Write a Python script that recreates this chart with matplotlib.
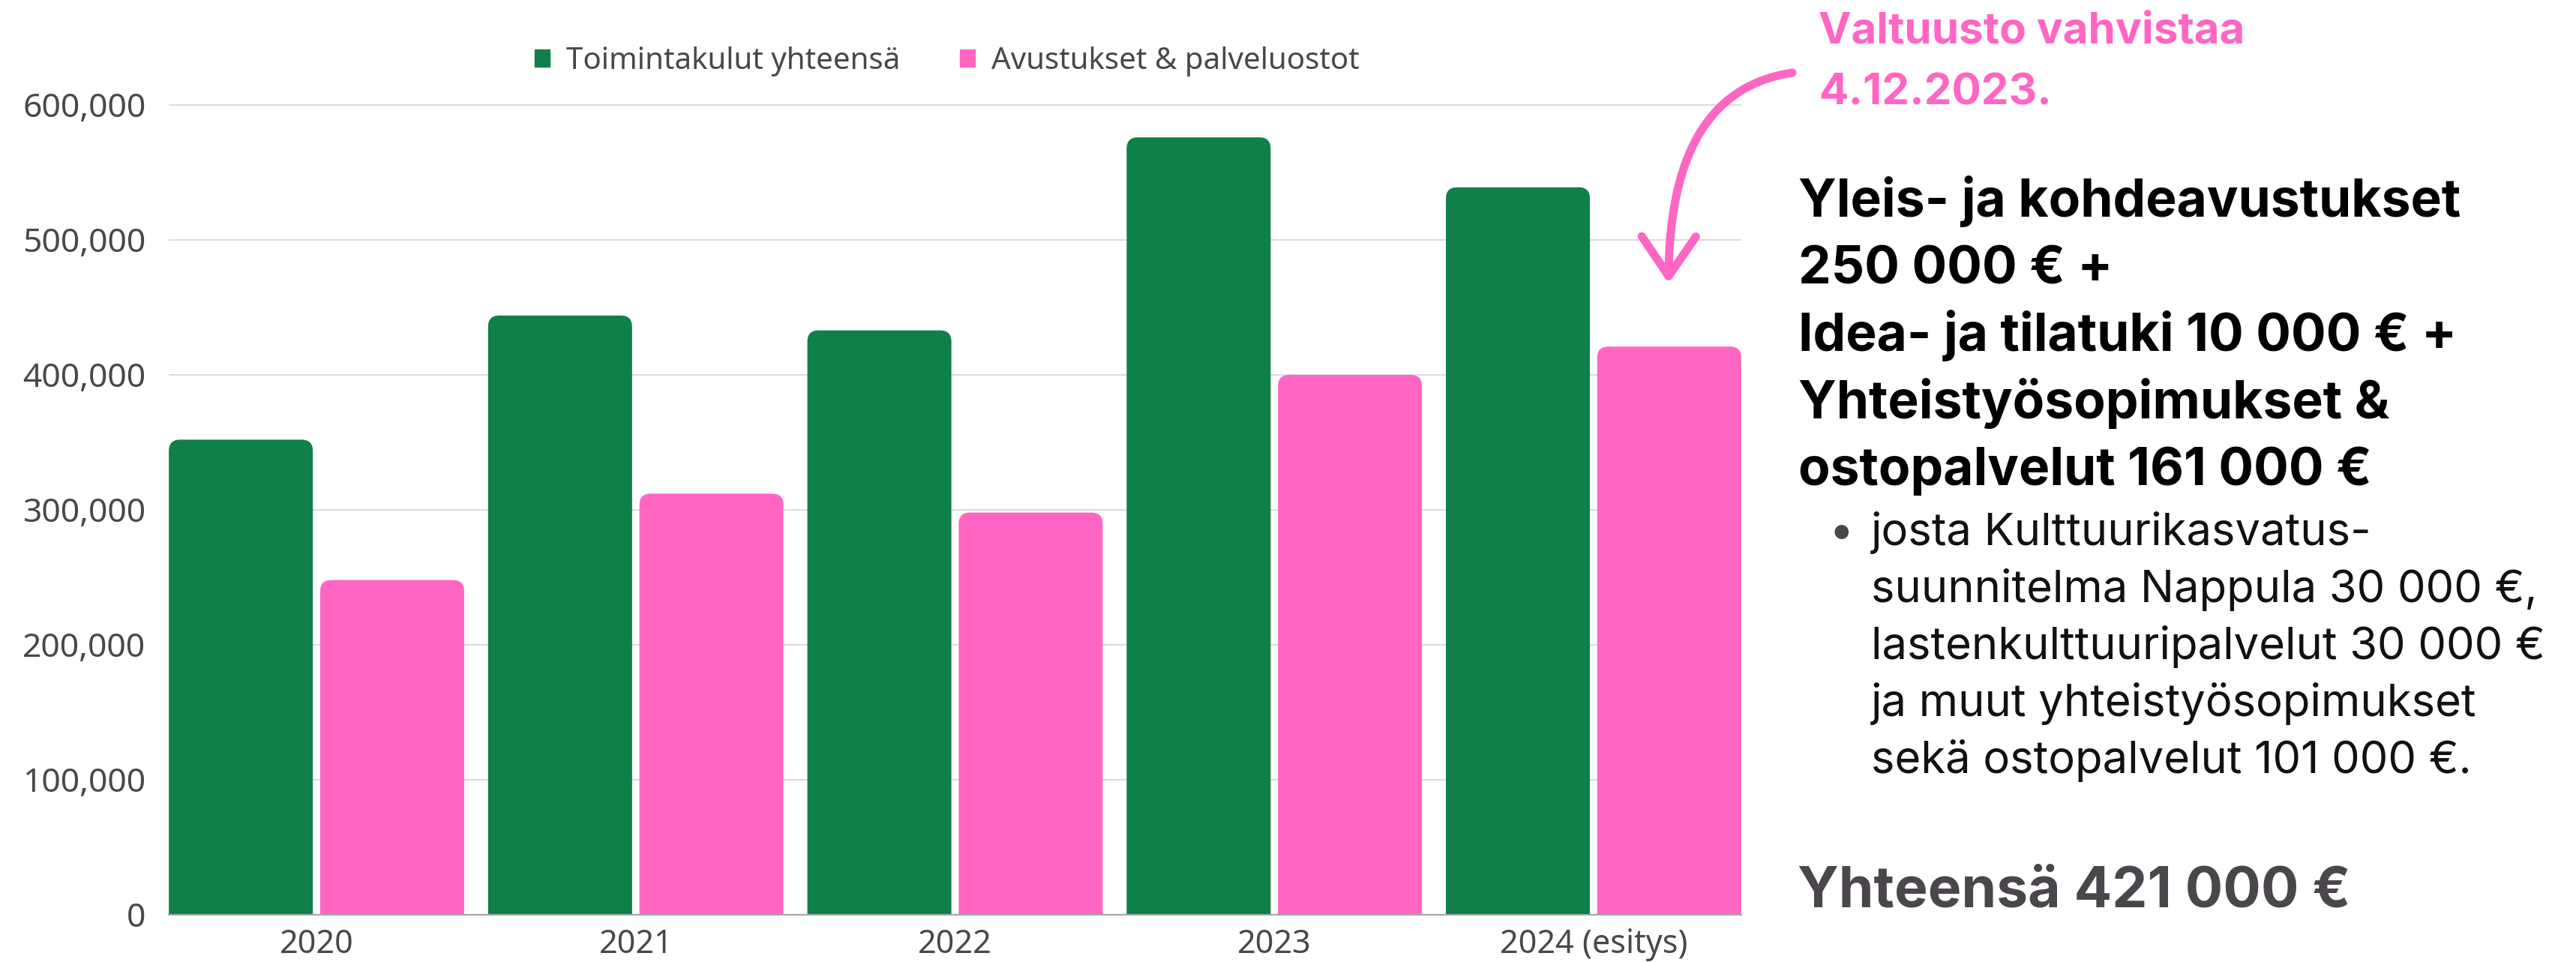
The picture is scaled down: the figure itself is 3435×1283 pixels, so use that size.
import numpy as np
import matplotlib
matplotlib.use("Agg")
import matplotlib.pyplot as plt
from matplotlib.patches import FancyBboxPatch, FancyArrowPatch, Patch
from matplotlib.path import Path

# -------------------------------------------------
# Data
# -------------------------------------------------
years = ["2020", "2021", "2022", "2023", "2024 (esitys)"]
toimintakulut = [352000, 444000, 433000, 576000, 539000]
avustukset = [248000, 312000, 298000, 400000, 421000]
series_names = ["Toimintakulut yhteensä", "Avustukset & palveluostot"]
y_ticks = [0, 100000, 200000, 300000, 400000, 500000, 600000]

note_lines = ["Valtuusto vahvistaa", "4.12.2023."]
bold_lines = [
    "Yleis- ja kohdeavustukset",
    "250 000 € +",
    "Idea- ja tilatuki 10 000 € +",
    "Yhteistyösopimukset &",
    "ostopalvelut 161 000 €",
]
bullet_lines = [
    "josta Kulttuurikasvatus-",
    "suunnitelma Nappula 30 000 €,",
    "lastenkulttuuripalvelut 30 000 €",
    "ja muut yhteistyösopimukset",
    "sekä ostopalvelut 101 000 €.",
]
total_text = "Yhteensä 421 000 €"

GREEN = "#0e8048"
PINK = "#ff66c4"
GREY = "#4a464c"

W, H = 3435, 1283
plt.rcParams["font.family"] = ["Noto Sans", "DejaVu Sans"]
TEXT_FONT = ["Inter", "DejaVu Sans"]


def fx(px):
    return px / W


def fy(py):
    return 1 - py / H


def round_tops(ax, bars, radius_px=15):
    # swap plain bars for ones with rounded top corners
    (x0, y0), (x1, y1) = ax.transData.transform([(0, 0), (1, 1)])
    rx = radius_px / (x1 - x0)
    ry = radius_px / (y1 - y0)
    for b in bars:
        p = FancyBboxPatch((b.get_x(), -ry), b.get_width(), b.get_height() + ry,
                           boxstyle=f"round,pad=0,rounding_size={rx}",
                           mutation_aspect=ry / rx, fc=b.get_facecolor(),
                           ec="none", zorder=2)
        ax.add_patch(p)
        b.remove()


fig = plt.figure(figsize=(W / 100, H / 100), dpi=100)
ax = fig.add_axes([fx(225), fy(1220), (2322 - 225) / W, (1220 - 122) / H])

x = np.arange(len(years))
bw = 0.451
off = 0.237
bars_g = ax.bar(x - off, toimintakulut, bw, color=GREEN)
bars_p = ax.bar(x + off, avustukset, bw, color=PINK)
ax.set_xlim(-0.4628, len(years) - 1 + 0.4628)
ax.set_ylim(0, 610000)
round_tops(ax, bars_g)
round_tops(ax, bars_p)

ax.set_xticks(x)
ax.set_xticklabels(years)
ax.set_yticks(y_ticks)
ax.set_yticklabels([f"{v:,}" for v in y_ticks])
ax.tick_params(length=0, labelsize=32, labelcolor=GREY)
ax.tick_params(axis="y", pad=22)
ax.tick_params(axis="x", pad=13, labelsize=31)
ax.yaxis.grid(True, color="#dcdcdc", lw=1.5)
ax.set_axisbelow(True)
for s in ["top", "right", "left"]:
    ax.spines[s].set_visible(False)
ax.spines["bottom"].set_color("#a6a6a6")
ax.spines["bottom"].set_linewidth(1.5)

handles = [Patch(color=GREEN), Patch(color=PINK)]
ax.legend(handles, series_names, loc="center left",
          bbox_to_anchor=(fx(713), fy(82)), bbox_transform=fig.transFigure,
          ncol=2, frameon=False, fontsize=29, labelcolor=GREY,
          handlelength=0.5, handleheight=0.5, handletextpad=0.55,
          columnspacing=1.96, borderpad=0, borderaxespad=0)

# -------------------------------------------------
# Annotation text on the right
# -------------------------------------------------
for i, line in enumerate(note_lines):
    fig.text(fx(2425), fy(57 + i * 83), line, fontsize=42, color=PINK,
             fontweight="bold", family=TEXT_FONT, va="baseline")

for i, line in enumerate(bold_lines):
    fig.text(fx(2398), fy(289 + i * 89.5), line, fontsize=50, color="black",
             fontweight="bold", family=TEXT_FONT, va="baseline")

fig.text(fx(2455), fy(727), "•", fontsize=43, color=GREY, ha="center",
         family=TEXT_FONT, va="baseline")
for i, line in enumerate(bullet_lines):
    fig.text(fx(2495), fy(727 + i * 76), line, fontsize=43, color="#111111",
             family=TEXT_FONT, va="baseline")

fig.text(fx(2397), fy(1210), total_text, fontsize=54, color=GREY,
         fontweight="bold", family=TEXT_FONT, va="baseline")

# hand drawn style arrow
pts = [(2390, 97), (2290, 112), (2226, 190), (2225, 378)]
arrow_path = Path([(fx(a), fy(b)) for a, b in pts],
                  [Path.MOVETO, Path.CURVE4, Path.CURVE4, Path.CURVE4])
arrow = FancyArrowPatch(path=arrow_path, arrowstyle="->,head_length=38,head_width=26",
                        lw=8, color=PINK, transform=fig.transFigure,
                        capstyle="round", joinstyle="round")
fig.add_artist(arrow)

fig.savefig("out.png", dpi=100)
plt.close(fig)
